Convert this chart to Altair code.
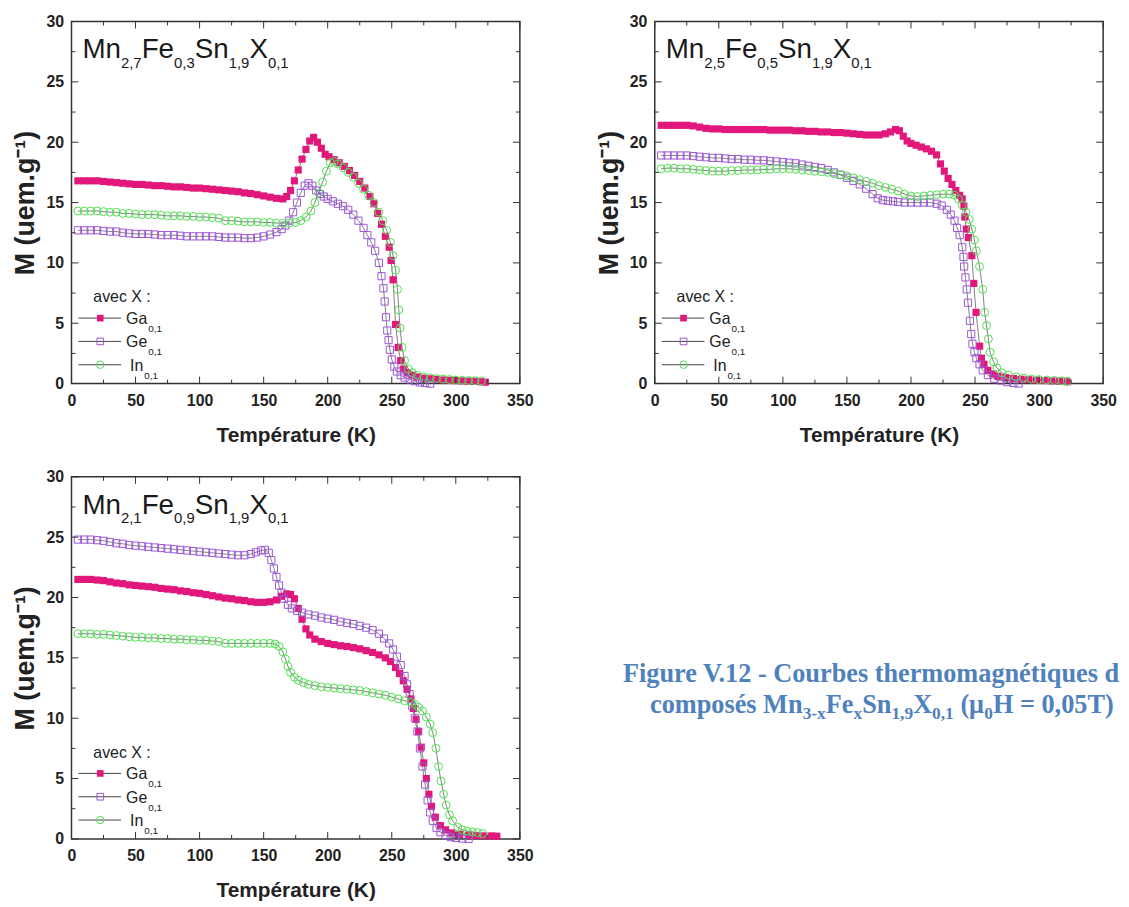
import altair as alt
import pandas as pd

# ---------------- data ----------------
x_major = [0, 50, 100, 150, 200, 250, 300, 350]
x_minor = [25, 75, 125, 175, 225, 275, 325]
y_major = [0, 5, 10, 15, 20, 25, 30]
y_minor = [2.5, 7.5, 12.5, 17.5, 22.5, 27.5]

series_names = ["Ga", "Ge", "In"]

# Panel 1 : Mn2,7Fe0,3Sn1,9X0,1
p1_ga = [(5,16.8),(10,16.8),(15,16.8),(20,16.8),(25,16.75),(30,16.7),(35,16.65),(40,16.6),(45,16.55),(50,16.5),
         (55,16.5),(60,16.45),(65,16.4),(70,16.4),(75,16.35),(80,16.3),(85,16.3),(90,16.25),(95,16.2),(100,16.2),
         (105,16.15),(110,16.1),(115,16.05),(120,16.0),(125,15.95),(130,15.9),(135,15.8),(140,15.75),(145,15.65),
         (150,15.55),(155,15.45),(160,15.35),(165,15.3),(168,15.5),(171,16.0),(174,16.8),(177,17.7),(180,18.6),
         (183,19.4),(186,20.1),(189,20.4),(192,20.0),(195,19.5),(198,19.0),(201,18.8),(205,18.55),(209,18.3),
         (213,18.0),(217,17.65),(221,17.25),(225,16.75),(229,16.2),(233,15.5),(236,14.9),(239,14.1),(242,13.2),
         (245,12.2),(248,11.3),(249.5,10.2),(251,8.6),(253,4.9),(255,3.0),(257,1.9),(259,1.2),(262,0.9),(266,0.7),
         (270,0.55),(275,0.45),(280,0.4),(285,0.35),(290,0.3),(295,0.28),(300,0.25),(305,0.22),(310,0.2),
         (315,0.18),(320,0.15),(323,0.12)]
p1_ge = [(5,12.7),(10,12.7),(15,12.7),(20,12.7),(25,12.65),(30,12.6),(35,12.6),(40,12.5),(45,12.45),(50,12.4),
         (55,12.4),(60,12.4),(65,12.35),(70,12.3),(75,12.3),(80,12.3),(85,12.25),(90,12.2),(95,12.2),(100,12.2),
         (105,12.2),(110,12.2),(115,12.15),(120,12.1),(125,12.1),(130,12.1),(135,12.05),(140,12.05),(145,12.1),
         (150,12.2),(155,12.35),(160,12.55),(164,12.8),(167,13.1),(170,13.5),(173,14.2),(176,15.0),(179,15.8),
         (182,16.4),(185,16.6),(188,16.4),(191,16.0),(194,15.7),(197,15.5),(200,15.3),(204,15.1),(208,14.9),
         (212,14.7),(216,14.4),(220,14.0),(224,13.5),(228,12.9),(231,12.3),(234,11.7),(237,11.0),(240,10.0),
         (242,8.9),(243.5,7.9),(244.5,6.8),(245.5,5.5),(246.5,4.4),(247.5,3.6),(248.5,2.8),(250,2.0),(252,1.4),
         (254,1.0),(257,0.7),(260,0.5),(264,0.35),(268,0.2),(272,0.1),(276,0.05),(280,0.0)]
p1_in = [(5,14.3),(10,14.3),(15,14.3),(20,14.3),(25,14.25),(30,14.2),(35,14.2),(40,14.1),(45,14.1),(50,14.05),
         (55,14.0),(60,14.0),(65,14.0),(70,13.95),(75,13.9),(80,13.9),(85,13.9),(90,13.85),(95,13.85),(100,13.8),
         (105,13.8),(110,13.75),(115,13.7),(120,13.5),(125,13.5),(130,13.45),(135,13.4),(140,13.4),(145,13.4),
         (150,13.35),(155,13.35),(160,13.3),(165,13.3),(170,13.3),(175,13.35),(179,13.5),(183,13.8),(187,14.3),
         (190,15.0),(193,15.8),(196,16.7),(199,17.6),(202,18.3),(205,18.4),(208,18.2),(212,17.9),(216,17.5),
         (220,17.1),(224,16.6),(228,16.1),(232,15.6),(236,15.0),(240,14.2),(243,13.5),(246,12.7),(249,11.7),
         (251,10.6),(253,9.4),(254.5,7.8),(255.5,6.1),(256.5,4.6),(258,3.0),(260,1.9),(263,1.2),(266,0.9),
         (270,0.7),(275,0.55),(280,0.48),(285,0.42),(290,0.38),(295,0.34),(300,0.3),(305,0.28),(310,0.26),
         (315,0.24),(320,0.22)]

# Panel 2 : Mn2,5Fe0,5Sn1,9X0,1
p2_ga = [(5,21.4),(10,21.4),(15,21.4),(20,21.4),(25,21.4),(30,21.35),(35,21.25),(40,21.15),(45,21.1),(50,21.1),
         (55,21.05),(60,21.05),(65,21.05),(70,21.05),(75,21.05),(80,21.05),(85,21.05),(90,21.0),(95,21.0),
         (100,21.0),(105,21.0),(110,20.95),(115,20.95),(120,20.9),(125,20.9),(130,20.85),(135,20.85),(140,20.8),
         (145,20.8),(150,20.75),(155,20.7),(160,20.65),(165,20.6),(170,20.6),(175,20.6),(180,20.7),(184,20.85),
         (188,21.05),(191,20.95),(194,20.5),(197,20.1),(200,19.9),(204,19.75),(208,19.6),(212,19.45),(216,19.25),
         (220,18.95),(223,18.2),(226,17.6),(229,17.0),(232,16.5),(235,16.0),(238,15.6),(240,15.3),(241.3,14.7),
         (242,13.8),(243.2,12.8),(244.8,12.1),(247.5,10.6),(249,8.3),(250.8,5.9),(253.6,3.1),(255,2.1),(257,1.6),
         (260,1.1),(264,0.8),(268,0.6),(274,0.5),(280,0.42),(286,0.36),(292,0.32),(298,0.28),(304,0.25),
         (310,0.22),(316,0.2),(322,0.15)]
p2_ge = [(5,18.9),(10,18.9),(15,18.9),(20,18.9),(25,18.9),(30,18.85),(35,18.8),(40,18.75),(45,18.7),(50,18.7),
         (55,18.65),(60,18.6),(65,18.6),(70,18.55),(75,18.55),(80,18.5),(85,18.5),(90,18.45),(95,18.4),
         (100,18.35),(105,18.3),(110,18.25),(115,18.15),(120,18.05),(125,17.95),(130,17.85),(135,17.7),(140,17.5),
         (145,17.3),(150,17.05),(155,16.8),(160,16.5),(165,16.15),(170,15.7),(174,15.35),(178,15.2),(182,15.15),
         (186,15.1),(190,15.05),(195,15.0),(200,15.0),(205,15.0),(210,15.0),(215,15.0),(220,14.9),(224,14.75),
         (228,14.4),(231,14.0),(234,13.5),(236,12.9),(238,12.3),(240,11.3),(241,10.5),(241.5,9.7),(242.5,8.8),
         (243.5,7.8),(244.5,6.7),(246,5.2),(247,4.1),(248,3.3),(249.5,2.6),(251,2.1),(253.5,1.6),(256,1.1),
         (260,0.7),(265,0.4),(270,0.25),(275,0.12),(280,0.05),(284,0.0)]
p2_in = [(5,17.8),(10,17.85),(15,17.85),(20,17.8),(25,17.8),(30,17.75),(35,17.7),(40,17.65),(45,17.6),(50,17.6),
         (55,17.6),(60,17.65),(65,17.65),(70,17.7),(75,17.7),(80,17.7),(85,17.75),(90,17.75),(95,17.8),(100,17.8),
         (105,17.8),(110,17.75),(115,17.7),(120,17.65),(125,17.6),(130,17.55),(135,17.5),(140,17.4),(145,17.3),
         (150,17.2),(155,17.05),(160,16.9),(165,16.75),(170,16.6),(175,16.4),(180,16.25),(185,16.1),(190,15.95),
         (195,15.7),(200,15.55),(205,15.5),(210,15.55),(215,15.6),(220,15.65),(225,15.7),(230,15.7),(234,15.6),
         (237,15.3),(240,14.8),(243,14.2),(245.4,13.6),(247.5,12.8),(249.5,11.9),(251,11.0),(253.5,9.7),
         (256,7.8),(257.5,5.9),(259,4.8),(260.4,3.7),(261.7,2.6),(264.5,1.8),(267,1.3),(271,0.9),(276,0.7),
         (282,0.55),(288,0.45),(294,0.38),(300,0.33),(306,0.3),(312,0.26),(318,0.23),(322,0.2)]

# Panel 3 : Mn2,1Fe0,9Sn1,9X0,1
p3_ga = [(5,21.5),(10,21.5),(15,21.5),(20,21.45),(25,21.4),(30,21.3),(35,21.2),(40,21.15),(45,21.05),(50,21.0),
         (55,20.95),(60,20.9),(65,20.85),(70,20.75),(75,20.7),(80,20.65),(85,20.55),(90,20.5),(95,20.4),
         (100,20.35),(105,20.25),(110,20.15),(115,20.05),(120,19.95),(125,19.9),(130,19.8),(135,19.75),
         (140,19.65),(145,19.6),(150,19.6),(155,19.65),(160,19.8),(164,20.1),(168,20.3),(171,20.25),(174,19.9),
         (177,19.1),(180,18.2),(183,17.4),(186,16.9),(190,16.55),(195,16.35),(200,16.2),(205,16.1),(210,16.0),
         (215,15.95),(220,15.85),(225,15.75),(230,15.6),(235,15.45),(240,15.25),(245,15.0),(249,14.7),(253,14.2),
         (256,13.7),(259,13.1),(262,12.4),(265,11.6),(267,10.8),(269,9.9),(271,8.9),(273,7.6),(275,6.3),(277,5.0),
         (279,3.7),(281,2.7),(284,1.8),(288,1.1),(292,0.75),(297,0.5),(303,0.38),(310,0.3),(316,0.27),(322,0.25),
         (328,0.25),(332,0.22)]
p3_ge = [(5,24.8),(10,24.8),(15,24.8),(20,24.75),(25,24.7),(30,24.6),(35,24.5),(40,24.45),(45,24.35),(50,24.3),
         (55,24.25),(60,24.2),(65,24.15),(70,24.1),(75,24.05),(80,24.0),(85,23.95),(90,23.9),(95,23.85),(100,23.8),
         (105,23.75),(110,23.7),(115,23.65),(120,23.6),(125,23.55),(130,23.5),(135,23.5),(140,23.6),(144,23.75),
         (148,23.9),(151,23.95),(154,23.7),(156,23.1),(158,22.4),(160,21.7),(162,21.0),(164,20.4),(166,19.9),
         (169,19.4),(172,19.1),(176,18.9),(180,18.75),(185,18.6),(190,18.5),(195,18.35),(200,18.25),(205,18.15),
         (210,18.0),(215,17.9),(220,17.8),(225,17.65),(230,17.5),(235,17.3),(240,17.0),(244,16.6),(248,16.2),
         (251,15.7),(254,15.1),(257,14.4),(260,13.5),(262,12.8),(264,12.0),(266,11.0),(268,10.0),(270,8.9),
         (272,7.5),(274,6.0),(276,4.5),(278,3.2),(280,2.2),(282,1.5),(285,0.9),(288,0.55),(292,0.3),(296,0.15),
         (300,0.08),(305,0.03),(310,0.0)]
p3_in = [(5,17.0),(10,17.0),(15,17.0),(20,16.95),(25,16.95),(30,16.9),(35,16.85),(40,16.8),(45,16.75),(50,16.7),
         (55,16.7),(60,16.65),(65,16.65),(70,16.6),(75,16.6),(80,16.55),(85,16.55),(90,16.5),(95,16.5),(100,16.45),
         (105,16.45),(110,16.4),(115,16.35),(120,16.2),(125,16.2),(130,16.2),(135,16.2),(140,16.2),(145,16.2),
         (150,16.2),(155,16.2),(159,16.15),(162,15.95),(165,15.5),(167,14.9),(169,14.3),(171,13.8),(174,13.4),
         (177,13.15),(181,12.95),(185,12.8),(190,12.7),(195,12.6),(200,12.55),(205,12.5),(210,12.45),(215,12.4),
         (220,12.35),(225,12.3),(230,12.2),(235,12.1),(240,12.0),(245,11.9),(250,11.75),(255,11.6),(260,11.45),
         (265,11.3),(268,11.15),(271,10.9),(274,10.6),(277,10.1),(280,9.5),(282,8.8),(284.5,7.5),(286.5,6.0),
         (288.5,4.8),(290.5,3.7),(292.5,2.8),(295,2.0),(297.5,1.5),(301.5,0.95),(305,0.75),(309,0.65),(313,0.58),
         (317,0.52),(321,0.45)]

titles = [
    [("Mn", 0), ("2,7", 1), ("Fe", 0), ("0,3", 1), ("Sn", 0), ("1,9", 1), ("X", 0), ("0,1", 1)],
    [("Mn", 0), ("2,5", 1), ("Fe", 0), ("0,5", 1), ("Sn", 0), ("1,9", 1), ("X", 0), ("0,1", 1)],
    [("Mn", 0), ("2,1", 1), ("Fe", 0), ("0,9", 1), ("Sn", 0), ("1,9", 1), ("X", 0), ("0,1", 1)],
]
legend_title = "avec X :"
legend_labels = [("Ga", "0,1"), ("Ge", "0,1"), ("In", "0,1")]
caption_line1 = "Figure V.12 - Courbes thermomagnétiques d"
caption_line2 = [("composés Mn", 0), ("3-x", 1), ("Fe", 0), ("x", 1), ("Sn", 0), ("1,9", 1), ("X", 0),
                 ("0,1", 1), (" (μ", 0), ("0", 1), ("H = 0,05T)", 0)]

# ---------------- styling ----------------
W, H = 452, 365
SANS = "Liberation Sans, Arial, sans-serif"
SERIF = "Liberation Serif, Times New Roman, serif"
INK = "#222222"
FRAME = "#333333"
COLORS = {"Ga": "#E2177C", "Ge": "#9C55D8", "In": "#4FE04F"}
CAPTION_BLUE = "#4F81BD"
CAP_MAIN, CAP_SUB = 26.5, 17.5

SANS_W = {"M": 833, "n": 556, "F": 611, "e": 556, "S": 667, "X": 667, ",": 278, "G": 778, "a": 556,
          "I": 278, " ": 278}
for d in "0123456789":
    SANS_W[d] = 556
SERIF_BW = {"c": 444, "o": 500, "m": 833, "p": 556, "s": 389, "é": 444, " ": 250, "M": 944, "n": 556,
            "-": 333, "x": 500, "F": 611, "e": 444, "S": 556, ",": 250, "X": 722, "(": 333, "μ": 576,
            "H": 778, "=": 570, "T": 667, ")": 333}
for d in "0123456789":
    SERIF_BW[d] = 500


def text_width(t, table, size):
    return sum(table.get(ch, 556) for ch in t) * size / 1000.0


def layout_pieces(pieces, x0, base, main_size, sub_size, sub_dy, table):
    out = []
    x = x0
    for t, sub in pieces:
        size = sub_size if sub else main_size
        lead = len(t) - len(t.lstrip(" "))
        out.append((t.strip(" "), x + lead * table[" "] * size / 1000.0, base + (sub_dy if sub else 0), size))
        x += text_width(t, table, size)
    return out


one = pd.DataFrame({"k": [0]})

sx = alt.Scale(domain=[0, 350], nice=False, zero=False)
sy = alt.Scale(domain=[0, 30], nice=False, zero=False)
ax_x = alt.Axis(values=x_major, title="Température (K)", grid=False, ticks=False, domain=False, tickSize=0,
                labelFlush=False)
ax_y = alt.Axis(values=y_major, title="M (uem.g⁻¹)", grid=False, ticks=False, domain=False, tickSize=0,
                labelFlush=False)


def text_layer(t, x, y, size, font=SANS, weight="normal", color=INK, align="left", baseline="alphabetic"):
    return alt.Chart(one).mark_text(text=t, font=font, fontSize=size, fontWeight=weight, color=color,
                                    align=align, baseline=baseline).encode(x=alt.value(x), y=alt.value(y))


def marker(name, size):
    c = COLORS[name]
    if name == "Ga":
        return dict(shape="square", filled=True, color=c, size=size, opacity=1)
    if name == "Ge":
        return dict(shape="square", filled=False, color=c, size=size, strokeWidth=1, opacity=1)
    return dict(shape="circle", filled=False, color=c, size=size + 12, strokeWidth=1, opacity=1)


def panel(data, title_pieces):
    rows = []
    for name, pts in zip(series_names, data):
        rows += [{"s": name, "T": t, "M": m} for t, m in pts]
    df = pd.DataFrame(rows)
    X = alt.X("T:Q", scale=sx, axis=ax_x)
    Y = alt.Y("M:Q", scale=sy, axis=ax_y)
    layers = []
    for name in series_names:
        layers.append(alt.Chart(df).transform_filter(alt.datum.s == name)
                      .mark_line(color="#4a4a4a", strokeWidth=0.7).encode(x=X, y=Y))
    for name in series_names:
        layers.append(alt.Chart(df).transform_filter(alt.datum.s == name)
                      .mark_point(**marker(name, 52)).encode(x=X, y=Y))
    # inward ticks on all four sides
    XV = alt.X("v:Q", scale=sx, axis=ax_x)
    YV = alt.Y("v:Q", scale=sy, axis=ax_y)
    for vals, ln in ((x_major, 7), (x_minor, 4)):
        d = pd.DataFrame({"v": vals})
        layers.append(alt.Chart(d).mark_rule(color=FRAME, strokeWidth=1)
                      .encode(x=XV, y=alt.value(H), y2=alt.value(H - ln)))
        layers.append(alt.Chart(d).mark_rule(color=FRAME, strokeWidth=1)
                      .encode(x=XV, y=alt.value(0), y2=alt.value(ln)))
    for vals, ln in ((y_major, 7), (y_minor, 4)):
        d = pd.DataFrame({"v": vals})
        layers.append(alt.Chart(d).mark_rule(color=FRAME, strokeWidth=1)
                      .encode(y=YV, x=alt.value(0), x2=alt.value(ln)))
        layers.append(alt.Chart(d).mark_rule(color=FRAME, strokeWidth=1)
                      .encode(y=YV, x=alt.value(W), x2=alt.value(W - ln)))
    # compound title with subscripts
    for t, x, y, size in layout_pieces(title_pieces, 11, 37, 28, 15, 10, SANS_W):
        layers.append(text_layer(t, x, y, size, color="#1a1a1a"))
    # legend
    layers.append(text_layer(legend_title, 22, 283, 16))
    for i, (name, (lab, sub)) in enumerate(zip(series_names, legend_labels)):
        yy = 299 + 23.5 * i
        layers.append(alt.Chart(one).mark_rule(color="#444444", strokeWidth=1)
                      .encode(x=alt.value(7), x2=alt.value(50), y=alt.value(yy)))
        layers.append(alt.Chart(one).mark_point(**marker(name, 45))
                      .encode(x=alt.value(29), y=alt.value(yy)))
        lx = 55 + (4 if name == "In" else 0)
        layers.append(text_layer(lab, lx, yy + 6, 16))
        layers.append(text_layer(sub, lx + text_width(lab, SANS_W, 16) + 1, yy + 14, 10))
    return alt.layer(*layers).properties(width=W, height=H)


p1 = panel([p1_ga, p1_ge, p1_in], titles[0])
p2 = panel([p2_ga, p2_ge, p2_in], titles[1])
p3 = panel([p3_ga, p3_ge, p3_in], titles[2])

# caption
CW = 520
cap_layers = [text_layer(caption_line1, 288, 207, CAP_MAIN, font=SERIF, weight="bold", color=CAPTION_BLUE,
                         align="center")]
w2 = sum(text_width(t, SERIF_BW, CAP_SUB if s else CAP_MAIN) for t, s in caption_line2)
for t, x, y, size in layout_pieces(caption_line2, 299 - w2 / 2, 238, CAP_MAIN, CAP_SUB, 6, SERIF_BW):
    cap_layers.append(text_layer(t, x, y, size, font=SERIF, weight="bold", color=CAPTION_BLUE))
caption = alt.layer(*cap_layers).properties(width=CW, height=H, view=alt.ViewBackground(stroke="transparent"))

chart = alt.vconcat(
    alt.hconcat(p1, p2, spacing=60),
    alt.hconcat(p3, caption, spacing=50),
    spacing=22,
).properties(
    padding={"left": 3, "top": 1, "right": 0, "bottom": 0}
).configure_view(
    stroke=FRAME, strokeWidth=1.5
).configure_axis(
    labelFont=SANS, labelFontWeight="bold", labelFontSize=16, labelColor=INK,
    titleFont=SANS, titleFontWeight="bold", titleColor=INK
).configure_axisX(
    labelPadding=9, titlePadding=16, titleFontSize=21
).configure_axisY(
    labelPadding=8, titlePadding=6, titleFontSize=27
)

chart.save("out.html", embed_options={"renderer": "svg", "actions": False})
